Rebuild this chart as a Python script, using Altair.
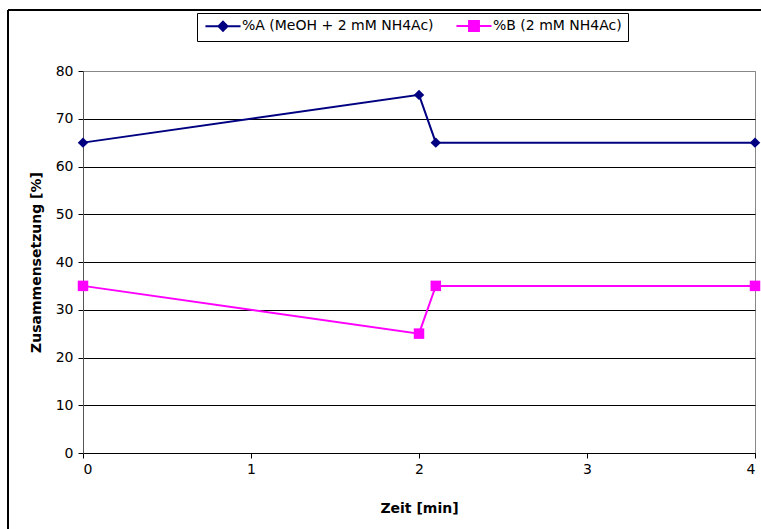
import altair as alt
import pandas as pd

time = [0, 2, 2.1, 4]
pct_a = [65, 75, 65, 65]
pct_b = [35, 25, 35, 35]
name_a = "%A (MeOH + 2 mM NH4Ac)"
name_b = "%B (2 mM NH4Ac)"
series = [name_a, name_b]
colors = ["#000080", "#FF00FF"]
shapes = ["diamond", "square"]
x_ticks = [0, 1, 2, 3, 4]
y_ticks = [0, 10, 20, 30, 40, 50, 60, 70, 80]

rows = []
for i, t in enumerate(time):
    rows.append({"t": t, "v": pct_a[i], "s": name_a, "i": i})
for i, t in enumerate(time):
    rows.append({"t": t, "v": pct_b[i], "s": name_b, "i": i})
df = pd.DataFrame(rows)

FONT = "DejaVu Sans"
FS = 14
W, H = 672, 382
PL, PT = 83, 71

common = dict(labelFont=FONT, titleFont=FONT, labelFontSize=FS, titleFontSize=FS,
              labelColor="black", titleColor="black", titleFontWeight="bold")
xenc = alt.X("t:Q", scale=alt.Scale(domain=[0, 4], nice=False),
             axis=alt.Axis(values=x_ticks, format="d", title="Zeit [min]", grid=False,
                           tickSize=5, labelPadding=4, titlePadding=25,
                           domainColor="black", tickColor="black", **common))
yenc = alt.Y("v:Q", scale=alt.Scale(domain=[0, 80], nice=False),
             axis=alt.Axis(values=y_ticks, title="Zusammensetzung [%]",
                           tickSize=5, labelPadding=5, titlePadding=12,
                           domainColor="#555555", tickColor="black",
                           gridColor={"condition": {"test": "datum.value == 80", "value": "#888888"}, "value": "black"},
                           gridOpacity=1, gridWidth=1, **common))
cscale = alt.Scale(domain=series, range=colors)

path_a = "M-3.9,0H3.9M0,-1L1,0L0,1L-1,0Z"
path_b = "M-3.9,0H3.9M-1.1,-1.1H1.1V1.1H-1.1Z"
legend = alt.Legend(
    title=None, orient="none", legendX=114, legendY=-58, direction="horizontal",
    strokeColor="black", fillColor="white", padding=6, symbolSize=81,
    symbolStrokeWidth=2, labelFontSize=FS, labelFont=FONT, labelColor="black",
    labelOffset=12, columnPadding=18, symbolOpacity=1, labelLimit=0, symbolOffset=13,
    symbolType={"expr": f"datum.value === '{name_a}' ? '{path_a}' : '{path_b}'"},
    symbolFillColor={"expr": f"datum.value === '{name_a}' ? '{colors[0]}' : '{colors[1]}'"},
)

lines = alt.Chart(df).mark_line(strokeWidth=2).encode(
    x=xenc, y=yenc, order="i:Q",
    color=alt.Color("s:N", scale=cscale, legend=legend),
)
layers = [lines]
for nm, col, shp in zip(series, colors, shapes):
    layers.append(
        alt.Chart(df).transform_filter(alt.datum.s == nm).mark_point(
            filled=True, size=110, opacity=1, color=col, shape=shp
        ).encode(x="t:Q", y="v:Q")
    )
left_border = alt.Chart(df).mark_rule(color="black", strokeWidth=1.5).encode(
    x=alt.value(8 - PL), y=alt.value(10 - PT), y2=alt.value(529 - PT))
top_border = alt.Chart(df).mark_rule(color="black", strokeWidth=1.5).encode(
    x=alt.value(8 - PL), x2=alt.value(761 - PL), y=alt.value(10 - PT))
layers += [left_border, top_border]

chart = alt.layer(*layers).properties(
    width=W, height=H, background="white",
    padding={"left": PL, "top": PT, "right": 761 - PL - W, "bottom": 529 - PT - H},
    autosize=alt.AutoSizeParams(type="none"),
).configure_view(stroke="#888888", strokeWidth=1)

chart.save("out.html", embed_options={"renderer": "svg", "actions": False})
